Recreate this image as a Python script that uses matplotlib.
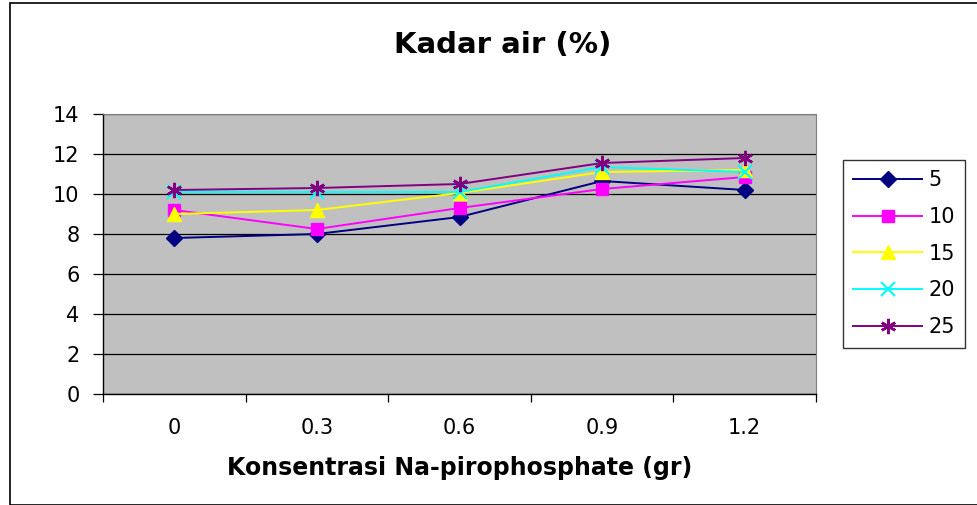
import matplotlib
matplotlib.use('Agg')
import matplotlib.pyplot as plt
import numpy as np

# data
categories = ['0', '0.3', '0.6', '0.9', '1.2']
series_names = ['5', '10', '15', '20', '25']
s5  = [7.8, 8.0, 8.85, 10.65, 10.2]
s10 = [9.2, 8.25, 9.3, 10.25, 10.85]
s15 = [9.0, 9.2, 10.05, 11.1, 11.2]
s20 = [10.1, 10.1, 10.1, 11.35, 11.1]
s25 = [10.2, 10.3, 10.5, 11.55, 11.8]

# excel text is wide, DejaVu is the widest font at hand
plt.rcParams['font.family'] = ['DejaVu Sans']

fig = plt.figure(figsize=(9.78, 5.05), dpi=100)
ax = fig.add_axes([103/978, 1-394/505, 713/978, 280/505])

# outer chart border
fig.patches.append(plt.Rectangle((10/978, 0), 1.2, (505-3)/505, transform=fig.transFigure,
                                 fill=False, edgecolor='black', linewidth=1.2))

x = np.arange(len(categories))
styles = [
    (s5,  '#000080', 'D', 8),
    (s10, '#FF00FF', 's', 9),
    (s15, '#FFFF00', '^', 10),
    (s20, '#00FFFF', 'x', 10),
    (s25, '#800080', '*', 11),
]
for (vals, col, mk, ms), name in zip(styles, series_names):
    if mk == '*':
        # excel star: x with a vertical bar
        ax.plot(x, vals, color=col, linewidth=1.4, marker=(6, 2, 0), markersize=ms,
                markeredgewidth=1.8, markeredgecolor=col, label=name)
    elif mk == 'x':
        ax.plot(x, vals, color=col, linewidth=1.4, marker='x', markersize=ms,
                markeredgewidth=1.5, label=name)
    else:
        ax.plot(x, vals, color=col, linewidth=1.4, marker=mk, markersize=ms,
                markeredgecolor=col, markerfacecolor=col, label=name)

ax.set_facecolor('#C0C0C0')
ax.set_xlim(-0.5, 4.5)
ax.set_ylim(0, 14)
ax.set_yticks(np.arange(0, 15, 2))
ax.yaxis.grid(True, color='black', linewidth=0.9)
ax.set_axisbelow(True)
ax.set_xticks(x)
ax.set_xticklabels(categories, fontsize=15)
ax.set_xticks(np.arange(-0.5, 5, 1), minor=True)
ax.tick_params(axis='x', which='major', length=0, pad=17)
ax.tick_params(axis='x', which='minor', length=6, width=0.9, direction='out')
ax.tick_params(axis='y', labelsize=15, length=7, width=0.9, direction='out', pad=10)
for side in ['top', 'right']:
    ax.spines[side].set_color('#808080')
    ax.spines[side].set_linewidth(0.8)
for side in ['left', 'bottom']:
    ax.spines[side].set_linewidth(1.0)

ax.set_xlabel('Konsentrasi Na-pirophosphate (gr)', fontsize=17, fontweight='bold', labelpad=13)
fig.text(503/978, 1-45/505, 'Kadar air (%)', fontsize=21, fontweight='bold',
         ha='center', va='center')

leg = ax.legend(loc='upper left', bbox_to_anchor=(843/978, 1-160/505),
                bbox_transform=fig.transFigure, fontsize=15, frameon=True,
                fancybox=False, edgecolor='black', handlelength=3.3,
                borderpad=0.5, labelspacing=0.8, handletextpad=0.3,
                borderaxespad=0)
leg.get_frame().set_linewidth(1.0)

fig.savefig('out.png', dpi=100)
